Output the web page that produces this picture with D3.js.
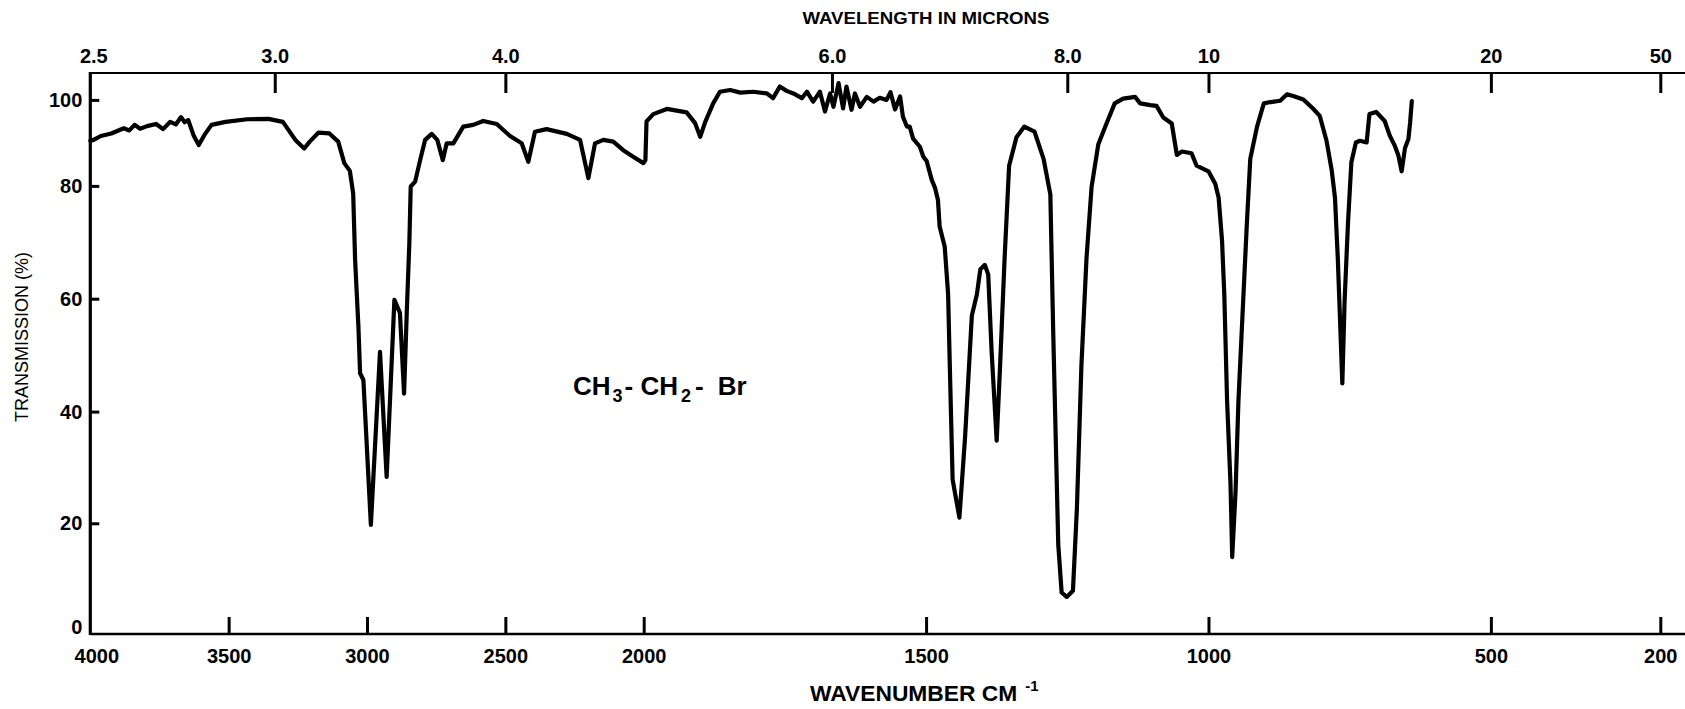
<!DOCTYPE html>
<html>
<head>
<meta charset="utf-8">
<script src="https://cdn.jsdelivr.net/npm/d3@7"></script>
<style>
  body { margin: 0; background: #fff; }
  svg { display: block; }
  text { font-family: "Liberation Sans", Arial, Helvetica, sans-serif; fill: #000; }
  .axis text { font-size: 20px; font-weight: bold; }
  .axis line { stroke: #000; stroke-width: 3; }
  .axis path.domain { display: none; }
  .frame { stroke: #000; fill: none; }
  .spectrum { fill: none; stroke: #000; stroke-width: 4.2; stroke-linejoin: round; stroke-linecap: round; }
</style>
</head>
<body>
<svg id="ir" width="1685" height="709"></svg>
<script>
// spectrum (wavenumber cm-1 / % transmission)
var wavenumber = [4000, 3988, 3962, 3924, 3879, 3859, 3840, 3820, 3795, 3762, 3737, 3711, 3691, 3672, 3659, 3646,
  3627, 3608, 3588, 3562, 3511, 3433, 3356, 3304, 3259, 3227, 3207, 3175, 3136, 3104, 3082, 3062, 3050, 3043,
  3031, 3025, 3013, 2986, 2953, 2929, 2901, 2881, 2866, 2856, 2847, 2842, 2826, 2808, 2790, 2766, 2746, 2726,
  2712, 2688, 2652, 2616, 2580, 2531, 2483, 2441, 2417, 2393, 2351, 2278, 2230, 2200, 2176, 2146, 2110, 2074,
  2038, 2001, 1997, 1995, 1983, 1959, 1924, 1909, 1900, 1891, 1877, 1865, 1847, 1829, 1806, 1782, 1771, 1759,
  1747, 1735, 1720, 1711, 1700, 1688, 1679, 1670, 1664, 1655, 1647, 1641, 1632, 1626, 1617, 1605, 1593, 1582,
  1570, 1563, 1555, 1546, 1541, 1534, 1529, 1523, 1511, 1505, 1499, 1490, 1484, 1479, 1476, 1467, 1461, 1458,
  1453, 1441, 1431, 1419, 1410, 1404, 1396, 1390, 1384, 1375, 1369, 1361, 1353, 1340, 1326, 1308, 1292, 1280,
  1275, 1266, 1260, 1251, 1240, 1233, 1225, 1216, 1207, 1195, 1180, 1166, 1151, 1130, 1121, 1103, 1092, 1080,
  1065, 1056, 1047, 1030, 1021, 1000, 988, 982, 976, 972, 967, 961, 958, 952, 947, 941, 932, 926, 914, 902,
  890, 873, 861, 850, 832, 815, 803, 791, 782, 776, 771, 763, 759, 753, 747, 739, 732, 720, 715, 703, 688,
  679, 670, 664, 658, 652, 646, 643, 640];
var transmission = [90.5, 90.7, 91.6, 92.2, 93.4, 92.9, 94.2, 93.3, 93.9, 94.4, 93.2, 94.9, 94.3, 96.0, 94.8, 95.3,
  91.8, 89.5, 91.8, 94.2, 94.9, 95.5, 95.6, 94.9, 90.7, 88.7, 90.3, 92.4, 92.2, 90.3, 85.3, 83.5, 78.7, 66.9,
  55.0, 46.8, 45.6, 19.7, 50.6, 28.3, 59.8, 57.5, 43.2, 58.0, 69.8, 79.9, 81.0, 86.0, 90.7, 92.1, 90.7, 86.0,
  89.9, 89.9, 93.8, 94.2, 95.1, 94.4, 91.6, 89.9, 85.6, 92.6, 93.2, 92.1, 90.7, 81.8, 89.9, 90.7, 90.3, 88.3,
  86.8, 85.3, 86.0, 95.0, 96.7, 97.9, 97.1, 94.6, 91.4, 94.9, 99.2, 101.9, 102.3, 101.7, 101.9, 101.5, 100.4, 103.1,
  102.1, 101.5, 100.4, 101.9, 99.6, 101.9, 97.3, 101.5, 98.4, 103.9, 98.0, 103.1, 97.7, 101.5, 98.4, 100.7, 99.6, 100.5,
  100.0, 101.8, 97.8, 100.8, 96.1, 93.8, 93.8, 91.0, 89.1, 86.8, 85.8, 81.4, 79.6, 77.5, 72.8, 69.2, 60.8, 48.1,
  27.8, 21.0, 35.4, 57.0, 60.8, 65.2, 66.0, 64.3, 50.7, 34.8, 48.1, 67.1, 84.7, 91.3, 93.8, 92.6, 86.3, 78.5,
  54.5, 16.2, 7.5, 6.7, 7.8, 22.6, 48.1, 67.1, 79.8, 89.7, 94.7, 99.2, 100.3, 100.7, 99.2, 98.8, 98.6, 95.9,
  94.5, 87.2, 88.0, 87.6, 84.7, 83.4, 80.5, 77.9, 70.3, 60.8, 41.8, 27.1, 13.9, 25.8, 41.8, 54.5, 73.4, 86.3, 93.8, 99.2,
  99.5, 99.8, 101.3, 100.9, 100.1, 98.0, 96.3, 90.5, 83.8, 77.9, 67.1, 45.0, 59.5, 73.4, 85.5, 90.1, 90.5, 90.1, 96.7, 97.2, 95.1,
  91.7, 89.3, 87.2, 83.4, 88.8, 90.9, 94.7, 99.7];

var wavenumberTicks = [4000, 3500, 3000, 2500, 2000, 1500, 1000, 500, 200];
var micronTicks = [2.5, 3.0, 4.0, 6.0, 8.0, 10, 20, 50];
var micronLabels = ["2.5", "3.0", "4.0", "6.0", "8.0", "10", "20", "50"];
var transmissionTicks = [0, 20, 40, 60, 80, 100];

var svg = d3.select("#ir"),
    W = +svg.attr("width"),
    left = 90.3, topY = 73, bottomY = 634;

// chart paper is split: 4000-2000 at half the scale of 2000-200
var x = d3.scaleLinear().domain([4000, 2000, 200]).range([left, 643.7, 1660.3]);
// the printed % grid is not evenly spaced on the scan
var y = d3.scaleLinear().domain(transmissionTicks).range([634, 523.3, 411.6, 298.7, 185.9, 99.9]);

var data = wavenumber.map(function(w, i) { return { w: w, t: transmission[i] }; });

// frame lines
svg.append("line").attr("class", "frame").attr("stroke-width", 2.2)
    .attr("x1", left).attr("x2", W).attr("y1", topY).attr("y2", topY);
svg.append("line").attr("class", "frame").attr("stroke-width", 2.6)
    .attr("x1", left).attr("x2", W).attr("y1", bottomY).attr("y2", bottomY);
svg.append("line").attr("class", "frame").attr("stroke-width", 3.2)
    .attr("x1", left).attr("x2", left).attr("y1", topY - 1).attr("y2", bottomY + 1);

// bottom axis: wavenumber
var xAxis = d3.axisBottom(x).tickValues(wavenumberTicks).tickSize(-17).tickSizeOuter(0).tickPadding(15)
    .tickFormat(d3.format("d"));
var gx = svg.append("g").attr("class", "axis")
    .attr("transform", "translate(0," + bottomY + ")")
    .call(xAxis);
gx.selectAll(".tick").filter(function(d) { return d === 4000; }).select("line").remove();
gx.selectAll(".tick").filter(function(d) { return d === 4000; }).select("text").attr("dx", 6);

// top axis: wavelength in microns, placed at 10000/um
var topAxis = d3.axisTop(x).tickValues(micronTicks.map(function(m) { return 10000 / m; }))
    .tickSize(-20).tickSizeOuter(0).tickPadding(10)
    .tickFormat(function(d, i) { return micronLabels[i]; });
var gt = svg.append("g").attr("class", "axis")
    .attr("transform", "translate(0," + topY + ")")
    .call(topAxis);
gt.selectAll(".tick").filter(function(d, i) { return i === 0; }).select("line").remove();
gt.selectAll(".tick").filter(function(d, i) { return i === 0; }).select("text").attr("dx", 3);

// left axis: transmission
var yAxis = d3.axisLeft(y).tickValues(transmissionTicks).tickSize(-9).tickSizeOuter(0).tickPadding(8);
var gy = svg.append("g").attr("class", "axis")
    .attr("transform", "translate(" + left + ",0)")
    .call(yAxis);
gy.selectAll(".tick line").attr("stroke-width", 2.2);
gy.selectAll(".tick").filter(function(d) { return d === 0; }).select("line").remove();
gy.selectAll(".tick").filter(function(d) { return d === 0; }).select("text").attr("dy", "-0.05em");

// the trace
var line = d3.line()
    .x(function(d) { return x(d.w); })
    .y(function(d) { return y(d.t); });

svg.append("path")
    .datum(data)
    .attr("class", "spectrum")
    .attr("d", line);

// titles
svg.append("text")
    .attr("x", 926).attr("y", 24)
    .attr("text-anchor", "middle")
    .attr("font-size", 16).attr("font-weight", "bold")
    .attr("textLength", 247).attr("lengthAdjust", "spacingAndGlyphs")
    .text("WAVELENGTH IN MICRONS");

var xt = svg.append("text")
    .attr("x", 810).attr("y", 701)
    .attr("font-size", 22.8).attr("font-weight", "bold");
xt.append("tspan").text("WAVENUMBER CM");
xt.append("tspan").attr("dx", 8).attr("dy", -10).attr("font-size", 15).text("-1");

svg.append("text")
    .attr("transform", "translate(28,337) rotate(-90)")
    .attr("text-anchor", "middle")
    .attr("font-size", 18)
    .text("TRANSMISSION  (%)");

var f = svg.append("text")
    .attr("x", 573).attr("y", 395)
    .attr("font-size", 26).attr("font-weight", "bold");
f.append("tspan").text("CH");
f.append("tspan").attr("font-size", 18).attr("dx", 2).attr("dy", 7).text("3");
f.append("tspan").attr("dx", 2).attr("dy", -7).text("- CH");
f.append("tspan").attr("font-size", 18).attr("dx", 3).attr("dy", 7).text("2");
f.append("tspan").attr("dx", 4).attr("dy", -7).text("-");
f.append("tspan").attr("dx", 14).text("Br");
</script>
</body>
</html>
